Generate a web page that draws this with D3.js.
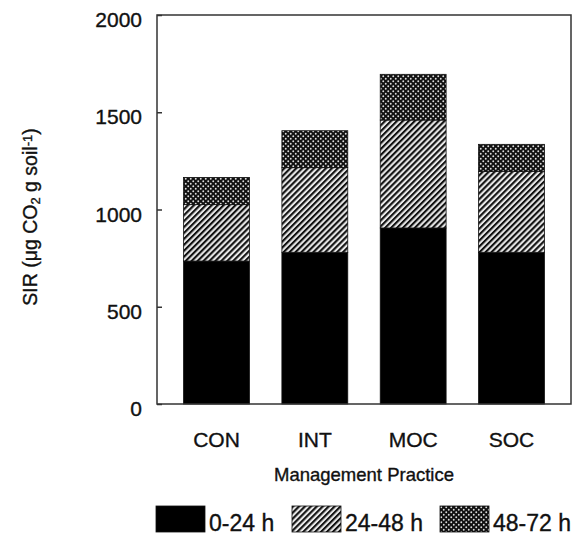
<!DOCTYPE html>
<html lang="en">
<head>
  <meta charset="UTF-8">
  <title>SIR by management practice</title>
  <style>
    body { margin: 0; background: #fff; }
    svg text { font-family: "Liberation Sans", Arial, sans-serif; fill: #111; stroke: #111; stroke-width: 0.35px; }
  </style>
</head>
<body>
  <div id="chart"></div>
  <script src="https://cdn.jsdelivr.net/npm/d3@7"></script>
  <script>
    // values (µg CO2 per g soil)
    var categories = ['CON', 'INT', 'MOC', 'SOC'];
    var seriesNames = ['0-24 h', '24-48 h', '48-72 h'];
    var h0_24 = [735, 780, 905, 780];
    var h24_48 = [290, 435, 555, 415];
    var h48_72 = [140, 190, 235, 140];
    var yTicks = [0, 500, 1000, 1500, 2000];

    var W = 581, H = 535;
    var m = {left: 157, top: 15, right: 10, bottom: 131};
    var w = W - m.left - m.right, h = H - m.top - m.bottom;

    var svg = d3.select('#chart').append('svg')
      .attr('width', W).attr('height', H);

    // fills: solid, diagonal hatch, dotted
    var defs = svg.append('defs');
    var hatch = defs.append('pattern')
      .attr('id', 'hatch')
      .attr('patternUnits', 'userSpaceOnUse')
      .attr('width', 4.2).attr('height', 4.2)
      .attr('patternTransform', 'rotate(45)');
    hatch.append('rect').attr('width', 4.2).attr('height', 4.2).attr('fill', '#e8e8e8');
    hatch.append('rect').attr('width', 2.1).attr('height', 4.2).attr('fill', '#111');

    var dots = defs.append('pattern')
      .attr('id', 'dots')
      .attr('patternUnits', 'userSpaceOnUse')
      .attr('width', 5).attr('height', 5);
    dots.append('rect').attr('width', 5).attr('height', 5).attr('fill', '#111');
    dots.append('circle').attr('cx', 1.25).attr('cy', 1.25).attr('r', 0.95).attr('fill', '#ddd');
    dots.append('circle').attr('cx', 3.75).attr('cy', 3.75).attr('r', 0.95).attr('fill', '#ddd');

    var fills = ['#000', 'url(#hatch)', 'url(#dots)'];

    var rows = categories.map(function(c, i) {
      return {cat: c, a: h0_24[i], b: h24_48[i], c: h48_72[i]};
    });
    var stack = d3.stack().keys(['a', 'b', 'c'])(rows);

    var x = d3.scaleBand().domain(categories).range([0, w])
      .paddingInner(0.33).paddingOuter(0.27);
    var y = d3.scaleLinear().domain([0, 2000]).range([h, 0]);

    var g = svg.append('g').attr('transform', 'translate(' + m.left + ',' + m.top + ')');

    g.selectAll('g.layer')
      .data(stack)
      .enter().append('g')
      .attr('class', 'layer')
      .attr('fill', function(d, i) { return fills[i]; })
      .selectAll('rect')
      .data(function(d) { return d; })
      .enter().append('rect')
      .attr('x', function(d) { return x(d.data.cat); })
      .attr('width', x.bandwidth())
      .attr('y', function(d) { return y(d[1]); })
      .attr('height', function(d) { return y(d[0]) - y(d[1]); })
      .attr('stroke', '#111')
      .attr('stroke-width', 0.8);

    // y axis, ticks point inward
    var yAxis = g.append('g')
      .call(d3.axisLeft(y).tickValues(yTicks).tickFormat(d3.format('d'))
        .tickSizeInner(-5).tickSizeOuter(0).tickPadding(15));
    yAxis.select('.domain').remove();
    yAxis.selectAll('line').attr('stroke', '#333').attr('stroke-width', 1.5);
    yAxis.selectAll('text')
      .attr('dy', '0.55em')
      .style('font-size', '21px');

    var xAxis = g.append('g')
      .attr('transform', 'translate(0,' + h + ')')
      .call(d3.axisBottom(x).tickSize(0).tickPadding(28));
    xAxis.select('.domain').remove();
    xAxis.selectAll('text').style('font-size', '21px');

    // frame
    g.append('rect')
      .attr('width', w).attr('height', h)
      .attr('fill', 'none').attr('stroke', '#333').attr('stroke-width', 1.5);

    g.append('text')
      .attr('x', w / 2).attr('y', h + 77)
      .attr('text-anchor', 'middle')
      .style('font-size', '18.5px')
      .text('Management Practice');

    var yl = svg.append('text')
      .attr('transform', 'translate(37,' + (m.top + 202) + ') rotate(-90)')
      .attr('text-anchor', 'middle')
      .style('font-size', '19.5px');
    yl.append('tspan').text('SIR (μg CO');
    yl.append('tspan').attr('baseline-shift', '-25%').style('font-size', '13px').text('2');
    yl.append('tspan').text(' g soil');
    yl.append('tspan').attr('baseline-shift', '35%').style('font-size', '13px').text('-1');
    yl.append('tspan').text(')');

    // legend
    var legendX = [156, 292, 440];
    var leg = svg.selectAll('g.leg')
      .data(seriesNames)
      .enter().append('g')
      .attr('class', 'leg')
      .attr('transform', function(d, i) { return 'translate(' + legendX[i] + ',506)'; });
    leg.append('rect')
      .attr('width', 49).attr('height', 26)
      .attr('fill', function(d, i) { return fills[i]; })
      .attr('stroke', '#111').attr('stroke-width', 0.8);
    leg.append('text')
      .attr('x', 53).attr('y', 25)
      .style('font-size', '23px')
      .text(function(d) { return d; });
  </script>
</body>
</html>
